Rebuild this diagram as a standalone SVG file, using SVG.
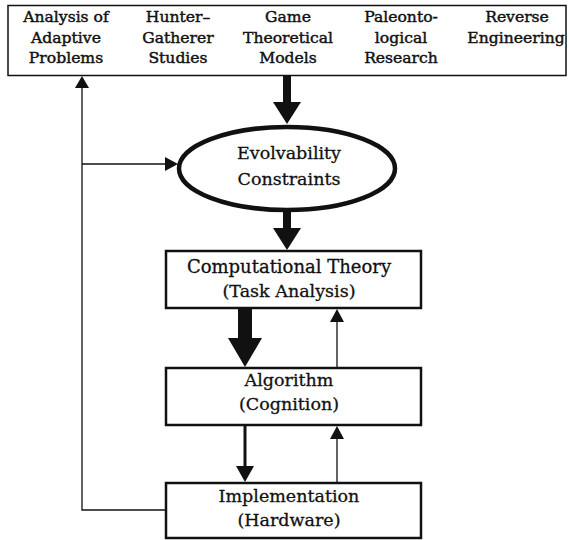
<svg xmlns="http://www.w3.org/2000/svg" width="569" height="540" viewBox="0 0 569 540">
<style>
text{font-family:"DejaVu Serif","Liberation Serif",serif;fill:#111;stroke:#111;text-anchor:middle}
.src{font-size:15.6px;stroke-width:0.45}
.nd{font-size:17.5px;stroke-width:0.3}
.box{fill:#fff;stroke:#111;stroke-width:2.5}
.thin{fill:none;stroke:#111;stroke-width:1.3}
.head{fill:#111;stroke:none}
</style>
<g id="sources">
<rect x="8" y="5.5" width="558" height="70" fill="#fff" stroke="#111" stroke-width="1.5"/>
<text class="src" x="66" y="22">Analysis of</text>
<text class="src" x="66" y="42.5">Adaptive</text>
<text class="src" x="66" y="63">Problems</text>
<text class="src" x="178" y="22">Hunter–</text>
<text class="src" x="178" y="42.5">Gatherer</text>
<text class="src" x="178" y="63">Studies</text>
<text class="src" x="288" y="22">Game</text>
<text class="src" x="288" y="42.5">Theoretical</text>
<text class="src" x="288" y="63">Models</text>
<text class="src" x="401" y="22">Paleonto-</text>
<text class="src" x="401" y="42.5">logical</text>
<text class="src" x="401" y="63">Research</text>
<text class="src" x="517" y="22">Reverse</text>
<text class="src" x="516" y="42.5">Engineering</text>
</g>
<g id="evolvability">
<ellipse cx="287" cy="168.5" rx="108" ry="41.5" fill="#fff" stroke="#111" stroke-width="4.5"/>
<text class="nd" x="289" y="159">Evolvability</text>
<text class="nd" x="289" y="185">Constraints</text>
</g>
<g id="computational">
<rect class="box" x="166" y="251" width="255" height="57"/>
<text class="nd" x="289" y="273" style="font-size:18px">Computational Theory</text>
<text class="nd" x="289" y="297">(Task Analysis)</text>
</g>
<g id="algorithm">
<rect class="box" x="166" y="368" width="255" height="57"/>
<text class="nd" x="289" y="386">Algorithm</text>
<text class="nd" x="289" y="410">(Cognition)</text>
</g>
<g id="implementation">
<rect class="box" x="166" y="483" width="255" height="55"/>
<text class="nd" x="289" y="502">Implementation</text>
<text class="nd" x="289" y="526">(Hardware)</text>
</g>
<g id="connectors">
<rect class="head" x="283" y="76" width="8" height="27"/>
<polygon class="head" points="273,102 301,102 287,124"/>
<rect class="head" x="283" y="212" width="8" height="17"/>
<polygon class="head" points="273,228 301,228 287,250"/>
<rect class="head" x="238" y="309" width="14" height="30"/>
<polygon class="head" points="228,338 262,338 245,367"/>
<line class="thin" x1="337" y1="367" x2="337" y2="321"/>
<polygon class="head" points="330,322 344,322 337,309"/>
<line x1="245" y1="426" x2="245" y2="467" stroke="#111" stroke-width="3"/>
<polygon class="head" points="236,466 254,466 245,482"/>
<line class="thin" x1="337" y1="482" x2="337" y2="438"/>
<polygon class="head" points="330,439 344,439 337,426"/>
<polyline class="thin" points="165,510 82,510 82,87"/>
<polygon class="head" points="75,88 89,88 82,76"/>
<line class="thin" x1="82" y1="164" x2="166" y2="164"/>
<polygon class="head" points="165,157 165,171 178,164"/>
</g>
</svg>
